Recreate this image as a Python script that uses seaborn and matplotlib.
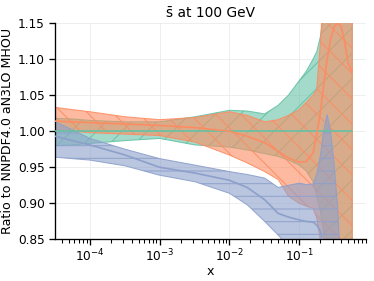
import seaborn as sns
import matplotlib.pyplot as plt
import pandas as pd
import numpy as np

# x grid and ratios
x = [3.2e-5, 5.6e-5, 1e-4, 3.2e-4, 1e-3, 3.2e-3, 1e-2, 1.8e-2, 3.2e-2, 5e-2, 7e-2,
     0.1, 0.126, 0.158, 0.178, 0.2, 0.224, 0.251, 0.282, 0.316, 0.355, 0.398, 0.447, 0.5, 0.575]

# green: NNPDF4.0 aN3LO MHOU (reference)
green_cv = [1.0, 1.0, 1.0, 1.0, 1.0, 1.0, 1.0, 1.0, 1.0, 1.0, 1.0, 1.0, 1.0,
            1.0, 1.0, 1.0, 1.0, 1.0, 1.0, 1.0, 1.0, 1.0, 1.0, 1.0, 1.0]
green_hi = [1.018, 1.017, 1.015, 1.013, 1.013, 1.020, 1.029, 1.028, 1.024, 1.036, 1.050, 1.070, 1.083,
            1.100, 1.110, 1.130, 1.160, 1.2, 1.2, 1.2, 1.2, 1.2, 1.2, 1.2, 1.2]
green_lo = [0.980, 0.981, 0.983, 0.987, 0.990, 0.981, 0.978, 0.974, 0.969, 0.965, 0.960, 0.953, 0.945,
            0.930, 0.910, 0.890, 0.860, 0.8, 0.8, 0.8, 0.8, 0.8, 0.8, 0.8, 0.8]

# orange
orange_cv = [1.014, 1.013, 1.012, 1.010, 1.008, 1.005, 1.000, 0.993, 0.984, 0.972, 0.963, 0.957, 0.958,
             0.970, 0.995, 1.025, 1.065, 1.100, 1.128, 1.145, 1.150, 1.145, 1.125, 1.095, 1.082]
orange_hi = [1.033, 1.030, 1.027, 1.020, 1.016, 1.019, 1.027, 1.022, 1.013, 1.016, 1.022, 1.030, 1.040,
             1.050, 1.058, 1.120, 1.2, 1.2, 1.2, 1.2, 1.2, 1.2, 1.2, 1.2, 1.2]
orange_lo = [1.002, 1.000, 0.998, 0.996, 0.994, 0.985, 0.967, 0.956, 0.944, 0.933, 0.910, 0.900, 0.896,
             0.893, 0.880, 0.850, 0.8, 0.8, 0.8, 0.8, 0.8, 0.8, 0.8, 0.8, 0.8]

# blue
blue_cv = [0.993, 0.987, 0.981, 0.967, 0.950, 0.942, 0.932, 0.922, 0.905, 0.886, 0.881, 0.877, 0.875,
           0.874, 0.870, 0.862, 0.840, 0.8, 0.8, 0.8, 0.8, 0.8, 0.8, 0.8, 0.8]
blue_hi = [1.013, 1.002, 0.990, 0.975, 0.962, 0.953, 0.944, 0.940, 0.935, 0.922, 0.925, 0.928, 0.926,
           0.927, 0.940, 0.965, 1.000, 1.023, 1.000, 0.955, 0.895, 0.8, 0.8, 0.8, 0.8]
blue_lo = [0.964, 0.962, 0.960, 0.952, 0.939, 0.930, 0.914, 0.898, 0.875, 0.856, 0.840, 0.8, 0.8,
           0.8, 0.8, 0.8, 0.8, 0.8, 0.8, 0.8, 0.8, 0.8, 0.8, 0.8, 0.8]

names = ['green', 'orange', 'blue']
colors = sns.color_palette("Set2", 3)

sns.set_theme(style="ticks", rc={'text.color': 'black', 'axes.labelcolor': 'black',
                                 'xtick.color': 'black', 'ytick.color': 'black',
                                 'axes.edgecolor': 'black', 'hatch.linewidth': 1.0})
fig, ax = plt.subplots(figsize=(374/76, 281/76), dpi=76)
fig.subplots_adjust(left=0.147, right=0.979, top=0.918, bottom=0.148)

bands = [(green_lo, green_hi, '/'), (orange_lo, orange_hi, '\\'), (blue_lo, blue_hi, '-')]
for (lo, hi, hatch), c in zip(bands, colors):
    ax.fill_between(x, lo, hi, facecolor=(*c, 0.6), edgecolor=(*c, 0.9), hatch=hatch, lw=1, zorder=2)

df = pd.DataFrame({'x': x * 3,
                   'ratio': green_cv + orange_cv + blue_cv,
                   'pdf': np.repeat(names, len(x))})
sns.lineplot(data=df, x='x', y='ratio', hue='pdf', palette=colors, legend=False,
             lw=1.6, zorder=3, ax=ax)

ax.set_xscale('log')
ax.set_xlim(3.16e-5, 0.91)
ax.set_ylim(0.85, 1.15)
ax.set_yticks([0.85, 0.90, 0.95, 1.00, 1.05, 1.10, 1.15])
ax.yaxis.set_major_formatter(plt.FormatStrFormatter('%.2f'))
ax.grid(True, which='major', color='#ececec', lw=0.8, zorder=0)
ax.tick_params(labelsize=11.5)
ax.tick_params(axis='x', pad=1.5)
ax.set_xlabel('x', fontsize=12, labelpad=1)
ax.set_ylabel('Ratio to NNPDF4.0 aN3LO MHOU', fontsize=12, labelpad=4)
ax.set_title('s\u0304 at 100 GeV', fontsize=13)
sns.despine(ax=ax)

fig.savefig('out.png', dpi=76)
